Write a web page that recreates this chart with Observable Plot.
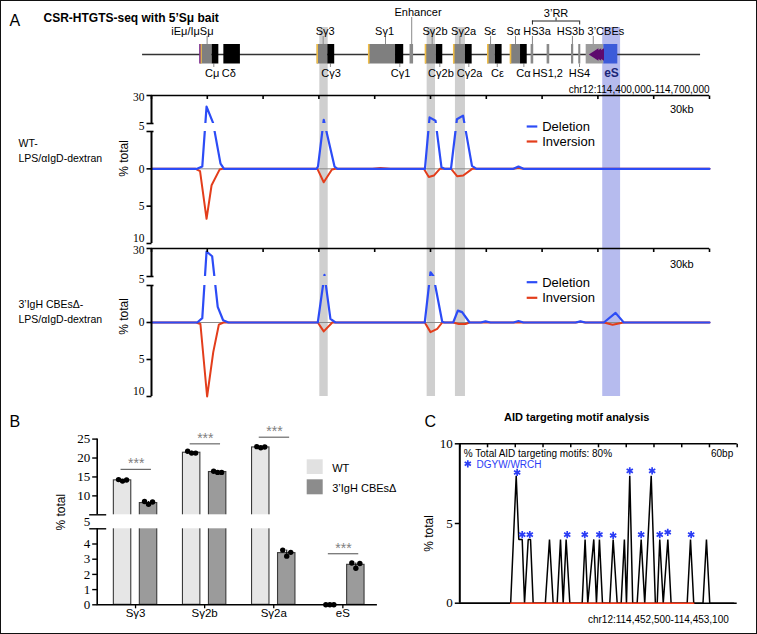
<!DOCTYPE html>
<html>
<head>
<meta charset="utf-8">
<script src="https://cdn.jsdelivr.net/npm/d3@7"></script>
<script src="https://cdn.jsdelivr.net/npm/@observablehq/plot@0.6"></script>
<style>
  html, body { margin: 0; padding: 0; background: #fff; }
  #fig { position: relative; width: 757px; height: 634px; overflow: hidden; background: #fff; }
  #fig svg { position: absolute; left: 0; top: 0; background: transparent; overflow: visible; }
  #frame { position: absolute; left: 0; top: 0; width: 757px; height: 634px; box-sizing: border-box; border: 1px solid #111; pointer-events: none; z-index: 10; }
</style>
</head>
<body>
<div id="fig"><div id="frame"></div></div>
<script>
// ====================== DATA ======================
// Panel A: genomic positions in kb from chr12:114,400,000 (tracks span 0-300 kb)
const bandX1 = [90.5, 148.2, 163.4, 242.6];
const bandX2 = [95.0, 152.7, 168.8, 252.2];
const bandKind = ["S", "S", "S", "eS"];

const mapLineKb = [-4.8, 295.2];
const boxX1 = [26.3, 32.6, 38.9, 89.1, 94.8, 116.8, 131.2, 139.0, 147.3, 153.2, 162.5, 168.8, 180.8, 184.9, 193.0, 198.4, 204.1, 212.7, 225.8, 229.7, 233.7, 243.2];
const boxX2 = [32.6, 36.2, 47.8, 94.8, 98.5, 131.2, 135.6, 140.9, 153.2, 156.6, 168.8, 172.4, 184.9, 188.5, 198.4, 202.0, 205.5, 214.1, 227.0, 230.8, 243.2, 250.7];
const boxKind = ["S", "C", "C", "S", "C", "S", "C", "E", "S", "C", "S", "C", "S", "C", "S", "C", "HS", "HS", "HS", "HS", "CBE", "eS"];
const sEdgeKb = [26.6, 89.1, 116.8, 147.3, 162.5, 180.8, 193.0];
const iEmuKb = [26.0];
const cbeArrowKb = [238.3, 239.8, 241.3];

const topLabel = ["iEμ/IμSμ", "Sγ3", "Sγ1", "Sγ2b", "Sγ2a", "Sε", "Sα", "HS3a", "HS3b", "3’CBEs"];
const topLabelKb = [22.0, 93.4, 125.3, 152.4, 167.8, 182.0, 194.6, 207.3, 225.3, 244.3];
const topConnKb = [29.9, 92.3, 125.8, 150.9, 165.8, 182.3, 195.7, 204.8, 226.3, 237.5];
const enhancerLabel = ["Enhancer"];
const enhancerKb = [143.3];
const enhancerConnKb = [139.9];
const rrLabel = ["3’RR"];
const rrKb = [217.5];
const rrBracketKb = [204.8, 230.2];
const botLabel = ["Cμ", "Cδ", "Cγ3", "Cγ1", "Cγ2b", "Cγ2a", "Cε", "Cα", "HS1,2", "HS4"];
const botLabelKb = [32.6, 41.6, 96.5, 133.9, 155.6, 171.0, 186.0, 200.0, 213.0, 230.1];
const botConnKb = [33.5, 96.2, 133.5, 155.0, 170.6, 185.9, 200.2, 230.1];
const eSLabel = ["eS"];
const eSLabelKb = [247.3];
const regionLabel = ["chr12:114,400,000-114,700,000"];

const trackTopTicksKb = [0, 30, 60, 90, 120, 150, 180, 210, 240, 270, 300];
const trackYTicks = [30, 0, -5, -10];
const trackYTickLabels = ["30", "0", "5", "10"];

// WT-LPS/αIgD-dextran (% total; inversions plotted downward)
const wtDelKb = [0, 24.5, 27.3, 29.6, 33.1, 37.1, 39.0, 88.7, 89.5, 92.6, 98.4, 100.0, 147.0, 149.5, 152.7, 155.9, 157.5, 161.0, 164.2, 167.5, 172.3, 174.7, 194.6, 197.3, 200.0, 300];
const wtDelPct = [0, 0, 0.3, 20, 5.6, 0.7, 0, 0, 0.3, 8.3, 0.3, 0, 0, 10.5, 7.4, 0.2, 0, 0, 8.8, 12, 0.4, 0, 0, 0.3, 0, 0];
const wtInvKb = [0, 23.7, 26.1, 29.6, 32.3, 36.6, 38.2, 89.2, 92.6, 97.0, 98.9, 118.8, 123.1, 128.5, 146.4, 149.1, 151.8, 155.0, 161.1, 164.4, 167.6, 172.4, 194.6, 197.3, 200.0, 300];
const wtInvPct = [0, 0, 0.3, 6.7, 2.2, 0.1, 0, 0, 1.8, 0.1, 0, 0, -0.12, 0, 0, 1.1, 0.9, 0, 0, 1.0, 0.9, 0, 0, -0.15, 0, 0];
// 3'IgH CBEsΔ-LPS/αIgD-dextran
const koDelKb = [0, 24.6, 27.3, 29.6, 32.6, 35.6, 38.5, 41.4, 89.4, 93.0, 96.2, 98.9, 146.9, 150.0, 151.6, 156.3, 157.5, 162.2, 164.7, 167.0, 171.0, 177.0, 179.6, 182.3, 194.6, 197.3, 200.0, 228.0, 230.6, 233.3, 243.2, 249.5, 253.9, 300];
const koDelPct = [0, 0, 0.6, 27.3, 23.1, 2.1, 0.3, 0, 0, 6.5, 0.5, 0, 0, 8.8, 5.2, 0.1, 0, 0, 1.6, 1.4, 0, 0, 0.15, 0, 0, 0.2, 0, 0, 0.15, 0, 0, 1.3, 0, 0];
const koInvKb = [0, 24.0, 26.3, 29.9, 33.2, 36.2, 38.7, 89.4, 92.6, 97.2, 146.9, 150.0, 153.6, 156.3, 162.2, 165.2, 168.8, 171.0, 228.0, 230.6, 233.3, 243.2, 247.9, 253.8, 300];
const koInvPct = [0, 0, 0.2, 10, 4.0, 0.3, 0, 0, 1.2, 0, 0, 1.3, 0.85, 0, 0, 0.2, 0.2, 0, 0, -0.1, 0, 0, 0.3, 0, 0];

// Panel B
const bCats = ["Sγ3", "Sγ2b", "Sγ2a", "eS"];
const bWT = [14.1, 21.4, 22.8, 0];
const bKO = [8.1, 16.3, 3.4, 2.63];
const bWTReps = [[14.3, 13.9, 14.2], [21.8, 21.3, 21.3], [23.0, 22.7, 22.9], [0, 0, 0]];
const bKOReps = [[8.5, 7.8, 8.4], [16.5, 16.2, 16.2], [3.6, 3.2, 3.45], [2.75, 2.4, 2.72]];
const bSigY = [17, 23.75, 25.5, 3.36];
const bSigText = ["***", "***", "***", "***"];
const bYTicks = [25, 20, 15, 10, 4, 3, 2, 1, 0];
const bLegend = ["WT", "3’IgH CBEsΔ"];

// Panel C (bp from chr12:114,452,500)
const cDelBp = [0, 110, 122, 127.6, 135, 140, 148, 153, 158.7, 185, 194, 202, 210.6, 217.8, 223.6, 230, 238, 264.7, 271, 276.8, 289.8, 295.6, 302, 308.6, 324.4, 331.7, 340.4, 349, 356, 360.5, 367.6, 374, 383.6, 392.3, 400, 414, 423, 427, 432.5, 440, 450, 457, 491.8, 499, 506, 526, 533.5, 540.6, 592.6];
const cDelPct = [0, 0, 8, 4, 4, 0, 4, 4, 0, 0, 4, 0, 0, 4, 0, 4, 0, 0, 4, 0, 4, 0, 4, 0, 0, 4, 0, 0, 4, 0, 8, 0, 0, 4, 0, 8, 0, 0, 4, 0, 4, 0, 0, 4, 0, 0, 4, 0, 0];
const cInvBp = [110, 506];
const cInvPct = [0, 0];
const cStarBp = [124, 135, 151.4, 232.3, 270.3, 302, 331.7, 367.6, 392.3, 416, 432.5, 449.8, 500.4];
const cStarPct = [8.2, 4.3, 4.3, 4.3, 4.3, 4.3, 4.25, 8.3, 4.3, 8.3, 4.3, 4.45, 4.3];
const cYTicks = [10, 5, 0];
const cTopTicksBp = [0, 60, 120, 180, 240, 300, 360, 420, 480, 540, 600];

// ====================== STYLE / LAYOUT ======================
const SANS = "'Liberation Sans', Arial, Helvetica, sans-serif";
const SERIF = "'Liberation Serif', 'Times New Roman', serif";
const BLUE = "#2c4cf6", RED = "#e33d1b";
const bandFill = {S: "#cfcfcf", eS: "#b6bbee"};
const boxFill = {S: "#7f7f7f", C: "#000000", E: "#8a8a8a", HS: "#8a8a8a", CBE: "#9c9c9c", eS: "#3c5bd9"};
const MAPFONT = 11;
const TICKFONT = 11.5;

// broken (two-segment) value axis: values above vBreak are compressed and offset by a gap
function brokenAxis(vMin, vBreak, vMax, pxMin, pxLo, pxHi, pxMax) {
  const s = (pxMin - pxLo) / (vBreak - vMin);
  const gap = (pxLo - pxHi) / s;
  const k = (pxHi - pxMax) / (vMax - vBreak) / s;
  const f = v => v <= vBreak ? v : vBreak + gap + (v - vBreak) * k;
  return {f, lo: vBreak, hi: vBreak + gap, top: f(vMax), scale: {domain: [vMin, f(vMax)], range: [pxMin, pxMax]}};
}

const fig = document.getElementById("fig");
function addPlot(o) {
  const svg = Plot.plot({
    width: 757, height: 634, margin: 0,
    style: {background: "transparent", fontFamily: SANS},
    color: {type: "identity"},
    marks: o.marks,
    x: Object.assign({axis: null}, o.x),
    y: Object.assign({axis: null}, o.y)
  });
  fig.insertBefore(svg, document.getElementById("frame"));
}
// fixed-pixel glyphs
const tickLeft = {draw(c) { c.moveTo(-5, 0); c.lineTo(0, 0); }};
const tickDown = {draw(c) { c.moveTo(0, 0); c.lineTo(0, 3.5); }};
const breakMark = {draw(c) { c.moveTo(-5, 0); c.lineTo(2, 0); }};
const breakMarkB = {draw(c) { c.moveTo(-8, 0); c.lineTo(9, 0); }};
const leftTri = {draw(c, size) { const r = Math.sqrt(size / Math.PI); c.moveTo(-1.3 * r, 0); c.lineTo(0.8 * r, -1.35 * r); c.lineTo(0.8 * r, 1.35 * r); c.closePath(); }};

function T(str, x, y, o = {}) {
  return Plot.text([str], {
    x: x, y: y, text: d => d,
    lineAnchor: o.line || "bottom", textAnchor: o.anchor || "start",
    fontSize: o.size || 11, fontWeight: o.weight || "normal",
    fill: o.fill || "black", fontFamily: o.family || SANS, rotate: o.rotate || 0
  });
}

// ====================== PANEL A: map + bands ======================
const bands = bandX1.map((x1, i) => ({x1, x2: bandX2[i], fill: bandFill[bandKind[i]]}));
const boxes = boxX1.map((x1, i) => ({x1, x2: boxX2[i], fill: boxFill[boxKind[i]]}));
const kbX = {domain: [0, 300], range: [151, 709]};
const pxY = {domain: [0, 634], range: [0, 634]};

addPlot({
  x: kbX, y: pxY,
  marks: [
    Plot.rect(bands, {x1: "x1", x2: "x2", y1: 27, y2: 396, fill: "fill"}),
    Plot.ruleY([54], {x1: mapLineKb[0], x2: mapLineKb[1], stroke: "#333", strokeWidth: 1.4}),
    Plot.ruleX(topConnKb, {x: d => d, y1: 36, y2: 44, stroke: "#8a8a8a", strokeWidth: 1}),
    Plot.ruleX(enhancerConnKb, {x: d => d, y1: 17, y2: 44, stroke: "#8a8a8a", strokeWidth: 1}),
    Plot.ruleX(botConnKb, {x: d => d, y1: 63.5, y2: 67, stroke: "#8a8a8a", strokeWidth: 1}),
    Plot.rect(boxes, {x1: "x1", x2: "x2", y1: 44, y2: 63.5, fill: "fill"}),
    Plot.ruleX(sEdgeKb, {x: d => d, y1: 44, y2: 63.5, stroke: "#f2be45", strokeWidth: 1.6}),
    Plot.ruleX(iEmuKb, {x: d => d, y1: 44, y2: 63.5, stroke: "#7a2a8c", strokeWidth: 1.4}),
    Plot.dot(cbeArrowKb, {x: d => d, y: 54, r: 4.6, symbol: leftTri, fill: "#5e0a6e", stroke: "none"}),
    Plot.text(topLabel, {x: topLabelKb, y: 34.5, text: d => d, lineAnchor: "bottom", fontSize: MAPFONT, fontFamily: SANS}),
    Plot.text(enhancerLabel, {x: enhancerKb, y: 15, text: d => d, lineAnchor: "bottom", fontSize: MAPFONT, fontFamily: SANS}),
    Plot.text(rrLabel, {x: rrKb, y: 16, text: d => d, lineAnchor: "bottom", fontSize: MAPFONT, fontFamily: SANS}),
    Plot.ruleY([20.5], {x1: rrBracketKb[0], x2: rrBracketKb[1], stroke: "#222", strokeWidth: 1}),
    Plot.ruleX(rrBracketKb, {x: d => d, y1: 20.5, y2: 24.5, stroke: "#222", strokeWidth: 1}),
    Plot.ruleX(rrKb, {x: d => d, y1: 17.5, y2: 20.5, stroke: "#222", strokeWidth: 1}),
    Plot.text(botLabel, {x: botLabelKb, y: 76, text: d => d, lineAnchor: "bottom", fontSize: MAPFONT, fontFamily: SANS}),
    Plot.text(eSLabel, {x: eSLabelKb, y: 76, text: d => d, lineAnchor: "bottom", fontSize: 12, fontWeight: "bold", fill: "#1b2678", fontFamily: SANS}),
    Plot.text(regionLabel, {x: 300, y: 92.5, text: d => d, lineAnchor: "bottom", textAnchor: "end", fontSize: 10, fontFamily: SANS})
  ]
});

// ====================== PANEL A: tracks ======================
function track(ax, delKb, delPct, invKb, invPct) {
  const f = ax.f;
  const del = delKb.map((x, i) => ({x, y: delPct[i]}));
  const inv = invKb.map((x, i) => ({x, y: -invPct[i]}));
  addPlot({
    x: kbX,
    y: ax.scale,
    marks: [
      Plot.ruleY([0], {x1: 0, x2: 300, stroke: "#8a8a8a", strokeWidth: 1}),
      Plot.line(inv, {x: "x", y: d => f(d.y), stroke: RED, strokeWidth: 2, strokeLinejoin: "round"}),
      Plot.line(del, {x: "x", y: d => f(d.y), stroke: BLUE, strokeWidth: 2.2, strokeLinejoin: "round"}),
      Plot.rect([0], {x1: 0, x2: 302, y1: ax.lo, y2: ax.hi, fill: "white"}),
      Plot.rect(bands, {x1: "x1", x2: "x2", y1: ax.lo, y2: ax.hi, fill: "fill"}),
      Plot.ruleX([0], {y1: -10, y2: ax.lo, stroke: "black", strokeWidth: 2}),
      Plot.ruleX([0], {y1: ax.hi, y2: ax.top, stroke: "black", strokeWidth: 2}),
      Plot.ruleY([ax.top], {x1: 0, x2: 300, stroke: "black", strokeWidth: 1.5}),
      Plot.dot(trackTopTicksKb, {x: d => d, y: ax.top, symbol: tickDown, stroke: "black", strokeWidth: 1.6, fill: "none"}),
      Plot.dot(trackYTicks, {x: 0, y: d => f(d), symbol: tickLeft, stroke: "black", strokeWidth: 1.6, fill: "none"}),
      Plot.dot([ax.lo, ax.hi], {x: 0, y: d => d, symbol: breakMark, stroke: "black", strokeWidth: 1.6, fill: "none"}),
      // "30" (nudged down), "0" and "5" labels
      Plot.text(trackYTicks.slice(0, 1), {x: 0, y: d => f(d), text: trackYTickLabels.slice(0, 1), dx: -7, dy: 1.5, textAnchor: "end", fontFamily: SERIF, fontSize: TICKFONT}),
      Plot.text(trackYTicks.slice(1, 3), {x: 0, y: d => f(d), text: trackYTickLabels.slice(1, 3), dx: -7, textAnchor: "end", fontFamily: SERIF, fontSize: TICKFONT}),
      // "10" sits just above its tick
      Plot.text(trackYTicks.slice(3), {x: 0, y: d => f(d), text: trackYTickLabels.slice(3), dx: -7, dy: -5, textAnchor: "end", fontFamily: SERIF, fontSize: TICKFONT}),
      Plot.text(["5"], {x: 0, y: ax.hi, text: d => d, dx: -7, dy: 3, textAnchor: "end", fontFamily: SERIF, fontSize: TICKFONT})
    ]
  });
}
track(brokenAxis(-10, 5, 30, 243, 131, 123, 95), wtDelKb, wtDelPct, wtInvKb, wtInvPct);
track(brokenAxis(-10, 5, 30, 396, 285, 276, 248), koDelKb, koDelPct, koInvKb, koInvPct);

// ====================== PANEL B ======================
const bAx = brokenAxis(0, 5, 25, 604.3, 528.3, 514.3, 438.6);
const offWT = -0.188, offKO = 0.188, halfW = 0.126, jit = 0.058;
const bBars = [], bDots = [], bErr = [];
bCats.forEach((c, i) => {
  bBars.push({x1: i + offWT - halfW, x2: i + offWT + halfW, y: bWT[i], fill: "#e6e6e6"});
  bBars.push({x1: i + offKO - halfW, x2: i + offKO + halfW, y: bKO[i], fill: "#9b9b9b"});
  bWTReps[i].forEach((v, j) => bDots.push({x: i + offWT + (j - 1) * jit, y: v}));
  bKOReps[i].forEach((v, j) => bDots.push({x: i + offKO + (j - 1) * jit, y: v}));
  bErr.push({x: i + offWT, y1: d3.min(bWTReps[i]), y2: d3.max(bWTReps[i])});
  bErr.push({x: i + offKO, y1: d3.min(bKOReps[i]), y2: d3.max(bKOReps[i])});
});
const bIdx = bCats.map((c, i) => i);
const bf = bAx.f;
addPlot({
  x: {domain: [-0.555, 3.5], range: [96.7, 376.9]},
  y: bAx.scale,
  marks: [
    Plot.rect(bBars, {x1: "x1", x2: "x2", y1: 0, y2: d => bf(d.y), fill: "fill", stroke: "#3a3a3a", strokeWidth: 1.1}),
    Plot.ruleX(bErr, {x: "x", y1: d => bf(d.y1), y2: d => bf(d.y2), stroke: "black", strokeWidth: 1}),
    Plot.dot(bDots, {x: "x", y: d => bf(d.y), r: 2.7, fill: "black", stroke: "none"}),
    Plot.rect([0], {x1: -0.54, x2: 3.6, y1: bAx.lo, y2: bAx.hi, fill: "white"}),
    Plot.ruleY(bIdx, {x1: d => d - 0.21, x2: d => d + 0.23, y: i => bf(bSigY[i]), stroke: "#6a6a6a", strokeWidth: 1.2}),
    Plot.text(bIdx, {x: d => d + 0.01, y: i => bf(bSigY[i]), text: i => bSigText[i], dy: -1, lineAnchor: "bottom", fontSize: 14, fill: "#808080", fontFamily: SANS}),
    Plot.ruleY([0], {x1: -0.555, x2: 3.5, stroke: "black", strokeWidth: 1.5}),
    Plot.dot(bIdx, {x: d => d, y: 0, symbol: tickDown, stroke: "black", strokeWidth: 1.3, fill: "none"}),
    Plot.text(bCats, {x: bIdx, y: 0, text: d => d, dy: 12.5, lineAnchor: "bottom", fontSize: 11.5, fontFamily: SANS}),
    Plot.ruleX([-0.555], {y1: 0, y2: bAx.lo, stroke: "black", strokeWidth: 1.6}),
    Plot.ruleX([-0.555], {y1: bAx.hi, y2: bAx.top, stroke: "black", strokeWidth: 1.6}),
    Plot.dot(bYTicks, {x: -0.555, y: d => bf(d), symbol: tickLeft, stroke: "black", strokeWidth: 1.4, fill: "none"}),
    Plot.dot([bAx.lo, bAx.hi], {x: -0.555, y: d => d, symbol: breakMarkB, stroke: "black", strokeWidth: 1.4, fill: "none"}),
    Plot.text(bYTicks, {x: -0.555, y: d => bf(d), text: d => String(d), dx: -7, textAnchor: "end", fontFamily: SERIF, fontSize: 13}),
    Plot.text(["5"], {x: -0.555, y: bAx.hi, text: d => d, dx: -7, dy: 7, textAnchor: "end", fontFamily: SERIF, fontSize: 13})
  ]
});

// ====================== PANEL C ======================
const cDel = cDelBp.map((x, i) => ({x, y: cDelPct[i]}));
const cInv = cInvBp.map((x, i) => ({x, y: cInvPct[i]}));
const cStars = cStarBp.map((x, i) => ({x, y: cStarPct[i]}));
addPlot({
  x: {domain: [0, 600], range: [459.3, 736.7]},
  y: {domain: [0, 10], range: [602.7, 443.3]},
  marks: [
    Plot.ruleY([0], {x1: 0, x2: 600, stroke: "black", strokeWidth: 1.5}),
    Plot.line(cDel, {x: "x", y: "y", stroke: "black", strokeWidth: 1.5, strokeLinejoin: "miter"}),
    Plot.line(cInv, {x: "x", y: "y", stroke: "#ff3a1a", strokeWidth: 1.5}),
    Plot.dot(cStars, {x: "x", y: "y", symbol: "asterisk", r: 3.4, stroke: "#2b3df5", strokeWidth: 1.7}),
    Plot.ruleY([10], {x1: 0, x2: 600, stroke: "black", strokeWidth: 1.5}),
    Plot.dot(cTopTicksBp, {x: d => d, y: 10, symbol: tickDown, stroke: "black", strokeWidth: 1.5, fill: "none"}),
    Plot.ruleX([0], {y1: 0, y2: 10, stroke: "black", strokeWidth: 2}),
    Plot.dot(cYTicks, {x: 0, y: d => d, symbol: tickLeft, stroke: "black", strokeWidth: 1.5, fill: "none"}),
    Plot.text(cYTicks, {x: 0, y: d => d, text: d => String(d), dx: -7, textAnchor: "end", fontFamily: SERIF, fontSize: 13})
  ]
});

// ====================== TEXT / LEGENDS (page coordinates) ======================
addPlot({
  x: {domain: [0, 757], range: [0, 757]},
  y: pxY,
  marks: [
    T("A", 9, 25, {size: 16}),
    T("CSR-HTGTS-seq with 5’Sμ bait", 43, 21, {size: 12, weight: "bold"}),
    T("WT-", 18, 146.5, {size: 10.5}),
    T("LPS/αIgD-dextran", 18, 161.5, {size: 10.5}),
    T("3’IgH CBEsΔ-", 18, 307.5, {size: 10.5}),
    T("LPS/αIgD-dextran", 18, 322.5, {size: 10.5}),
    T("% total", 123.5, 158, {size: 12, rotate: -90, line: "middle", anchor: "middle"}),
    T("% total", 123.5, 316, {size: 12, rotate: -90, line: "middle", anchor: "middle"}),
    T("30kb", 681.3, 112, {size: 11, anchor: "middle"}),
    T("30kb", 681.3, 267, {size: 11, anchor: "middle"}),
    Plot.ruleY([126, 281.7], {x1: 526.7, x2: 537.3, stroke: BLUE, strokeWidth: 2.2}),
    Plot.ruleY([141, 297.3], {x1: 526.7, x2: 537.3, stroke: RED, strokeWidth: 2.2}),
    T("Deletion", 541.7, 130.5, {size: 13}),
    T("Inversion", 541.7, 145.5, {size: 13}),
    T("Deletion", 541.7, 286, {size: 13}),
    T("Inversion", 541.7, 301.5, {size: 13}),
    // B
    T("B", 9, 426, {size: 16}),
    T("% total", 61, 511.7, {size: 12, rotate: -90, line: "middle", anchor: "middle"}),
    Plot.rect([0], {x1: 306.7, x2: 322.7, y1: 459.3, y2: 474, fill: "#e1e1e1"}),
    Plot.rect([0], {x1: 306.7, x2: 322.7, y1: 479.3, y2: 494.3, fill: "#8c8c8c"}),
    T(bLegend[0], 331.7, 471, {size: 11}),
    T(bLegend[1], 331.7, 491, {size: 11}),
    // C
    T("C", 424, 426.7, {size: 16}),
    T("AID targeting motif analysis", 576.2, 420.7, {size: 11, weight: "bold", anchor: "middle"}),
    T("% total", 428.3, 533, {size: 12, rotate: -90, line: "middle", anchor: "middle"}),
    T("% Total AID targeting motifs: 80%", 463.3, 456, {size: 10}),
    Plot.dot([0], {x: 467.3, y: 463.3, symbol: "asterisk", r: 3.4, stroke: "#2b3df5", strokeWidth: 1.7}),
    T("DGYW/WRCH", 476, 467, {size: 10, fill: "#2b3df5"}),
    T("60bp", 732.7, 456, {size: 10, anchor: "end"}),
    T("chr12:114,452,500-114,453,100", 728.3, 622.7, {size: 10, anchor: "end"})
  ]
});
</script>
</body>
</html>
